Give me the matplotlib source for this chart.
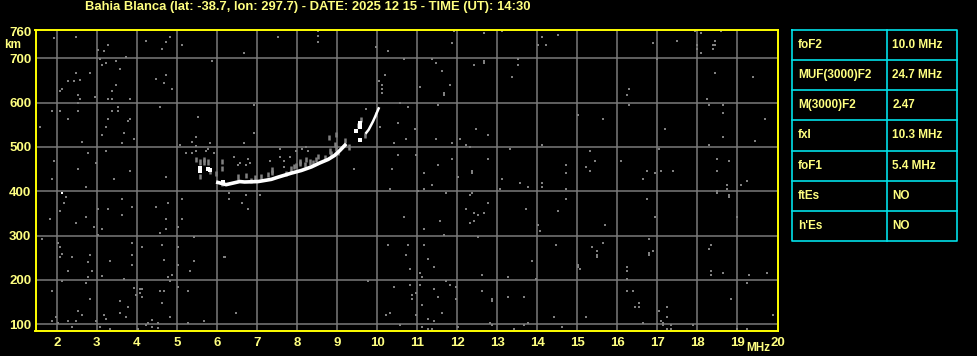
import matplotlib
matplotlib.use("Agg")
import matplotlib.pyplot as plt
import numpy as np

# ionogram: Bahia Blanca 2025-12-15 14:30 UT
title = "Bahia Blanca (lat: -38.7, lon: 297.7) - DATE: 2025 12 15 - TIME (UT): 14:30"

freq_ticks = list(range(2, 21))
height_ticks = [100, 200, 300, 400, 500, 600, 700, 760]

# main o-trace (white) and the steep upper part near foF2
trace_freq = [5.98, 6.07, 6.23, 6.57, 6.69, 7.03, 7.36, 7.53, 7.86, 8.11, 8.36, 8.57, 8.78, 8.94, 9.07, 9.23]
trace_height = [421, 419, 415, 422, 421, 422, 427, 432, 441, 447, 455, 464, 472, 481, 492, 507]
upper_freq = [9.48, 9.58, 9.73, 9.79, 9.86, 9.90, 9.94, 10.04]
upper_height = [537, 546, 532, 539, 551, 558, 566, 587]
start_freq = [5.58, 5.58, 5.78, 5.83, 6.15, 9.58, 9.58]
start_height = [453, 445, 450, 448, 421, 515, 555]

# weaker grey echoes around the trace (vertical streaks)
echo_pts = [(5.58, 460), (5.68, 460), (5.78, 460), (6.13, 462), (5.58, 428), (5.83, 440),
            (5.98, 434), (6.13, 445), (6.13, 412), (6.53, 426), (6.73, 429), (6.86, 418),
            (6.94, 424), (7.11, 427), (7.28, 432), (7.38, 436), (7.73, 434), (7.86, 444),
            (7.98, 452), (8.07, 456), (8.19, 454), (8.32, 460), (8.40, 458), (8.48, 466),
            (8.69, 470), (8.82, 485), (8.86, 480), (8.98, 492), (9.03, 482), (9.19, 508),
            (9.29, 494), (8.79, 515), (8.98, 522), (9.97, 568), (9.69, 520),
            (9.59, 556), (9.53, 542), (8.07, 462), (8.23, 466), (7.38, 442), (7.93, 450),
            (8.52, 472), (8.94, 500), (5.48, 465), (5.68, 466)]

# scattered noise
noise_pts = [
    (1.94, 745), (2.48, 749), (4.73, 763), (4.83, 749), (4.23, 740), (4.74, 736), (3.28, 731),
    (3.03, 718), (3.18, 717), (4.63, 722), (5.13, 731), (3.74, 704), (3.08, 698), (3.23, 690),
    (3.13, 686), (3.49, 694), (3.59, 676), (2.48, 667), (2.83, 667), (2.28, 649), (2.43, 648),
    (2.58, 652), (2.13, 631), (2.08, 627), (2.53, 618), (2.58, 609), (2.95, 613), (3.28, 609),
    (3.38, 609), (3.38, 627), (3.49, 640), (3.84, 609), (4.49, 654), (4.74, 663), (4.68, 645),
    (4.89, 631), (5.88, 694), (2.53, 600), (1.89, 582), (2.09, 582), (2.53, 582), (3.38, 582),
    (3.53, 591), (3.53, 582), (4.58, 591), (2.28, 564), (3.28, 564), (3.84, 564), (3.79, 559),
    (1.58, 546), (3.23, 546), (3.69, 532), (3.13, 528), (3.93, 518), (2.63, 512), (3.63, 509),
    (5.53, 568), (2.78, 487), (3.23, 491), (1.94, 469), (2.98, 464), (2.53, 451), (3.84, 446),
    (1.89, 428), (2.74, 410), (3.43, 428), (4.74, 433), (2.24, 388), (2.19, 374),
    (2.09, 356), (1.83, 338), (2.48, 329), (2.74, 342), (2.94, 320), (3.03, 360), (3.28, 360),
    (3.14, 315), (3.63, 383), (3.63, 347), (3.88, 365), (4.48, 365), (4.78, 374), (4.74, 338),
    (4.58, 306), (4.74, 315), (5.13, 383), (5.13, 338), (5.03, 320), (3.03, 302), (1.64, 293),
    (2.04, 284), (2.09, 275), (2.14, 259), (2.09, 252), (2.38, 252), (2.83, 257), (2.78, 241),
    (2.28, 220), (2.88, 220), (2.78, 207), (3.14, 209), (3.34, 243), (3.88, 284), (4.13, 275),
    (3.88, 257), (3.88, 234), (4.63, 279), (4.68, 245), (5.03, 275), (5.03, 234), (5.43, 297),
    (5.43, 243), (5.33, 220), (6.18, 252), (4.88, 211), (4.78, 207), (4.83, 198), (2.14, 198),
    (2.74, 193), (1.89, 175), (3.68, 202), (3.93, 182), (4.08, 180), (4.13, 180), (4.08, 171),
    (3.98, 166), (4.13, 162), (4.58, 175), (4.68, 175), (5.03, 184), (5.28, 175), (4.63, 148),
    (3.58, 153), (3.78, 139), (2.83, 157), (2.53, 130), (2.63, 121), (3.58, 126), (3.18, 121),
    (3.23, 112), (3.73, 117), (4.83, 117), (1.89, 108), (1.99, 117), (2.04, 103), (2.29, 108),
    (2.48, 108), (2.98, 108), (3.08, 94), (3.33, 90), (4.03, 90), (4.23, 99), (4.28, 103),
    (4.38, 110), (4.38, 94), (4.53, 103), (4.53, 92), (5.28, 103), (5.68, 108), (2.38, 94),
    (5.08, 505), (5.48, 523), (5.38, 512), (5.48, 503), (5.23, 487), (5.38, 487), (5.48, 491),
    (5.73, 491), (5.83, 509), (5.78, 496), (5.93, 487),
    (8.53, 762), (8.53, 751), (8.53, 737), (7.53, 749), (6.68, 713), (10.28, 717), (9.98, 726),
    (10.68, 699), (10.19, 663), (10.04, 649), (10.13, 640), (10.13, 631), (10.13, 622),
    (6.93, 595), (10.58, 600), (10.78, 591), (9.73, 586), (10.53, 555), (10.08, 546),
    (10.73, 518), (10.43, 509), (6.93, 532), (6.68, 509), (10.53, 482), (9.43, 451),
    (10.38, 451), (10.33, 406), (6.43, 478), (6.58, 464), (6.53, 460), (6.78, 473), (6.83, 464),
    (6.73, 460), (7.33, 469), (7.58, 496), (7.58, 478), (7.68, 469), (7.83, 478), (7.98, 491),
    (8.13, 496), (8.23, 500), (8.28, 491), (7.68, 455), (6.29, 397), (6.29, 383), (6.73, 392),
    (7.08, 392), (6.63, 374), (6.78, 360), (10.68, 342), (10.28, 279), (10.78, 279),
    (10.73, 257), (10.83, 225), (9.78, 198), (10.43, 184), (10.83, 189), (10.88, 166),
    (10.88, 157), (6.48, 126), (10.23, 121), (10.33, 126), (10.58, 99), (6.19, 252),
    (11.93, 762), (12.68, 758), (13.13, 762), (11.88, 735), (14.13, 749), (14.53, 753),
    (14.03, 731), (14.23, 731), (11.38, 699), (11.48, 690), (12.43, 685), (12.68, 694),
    (12.68, 690), (13.53, 699), (13.53, 685), (11.63, 672), (13.38, 658), (11.08, 636),
    (11.83, 640), (11.68, 622), (11.68, 618), (11.53, 595), (15.03, 573), (15.63, 564),
    (10.95, 541), (12.48, 541), (12.78, 527), (11.48, 518), (12.08, 518), (11.88, 509),
    (12.23, 505), (12.33, 500), (14.13, 505), (13.33, 496), (10.98, 482), (11.53, 460),
    (11.88, 473), (12.78, 473), (11.18, 442), (12.38, 446), (12.38, 442), (12.03, 433),
    (13.13, 428), (13.58, 419), (13.78, 410), (14.13, 419), (14.13, 410), (14.73, 460),
    (14.73, 442), (15.23, 455), (15.33, 446), (15.43, 469), (15.33, 491), (11.38, 415),
    (11.18, 406), (11.03, 401), (13.08, 406), (14.73, 406), (11.73, 397), (12.38, 397),
    (12.33, 392), (12.78, 374), (12.23, 360), (13.73, 360), (12.43, 351), (12.53, 347),
    (12.68, 351), (12.33, 329), (12.43, 333), (11.58, 333), (14.73, 383), (14.53, 356),
    (14.03, 324), (14.08, 311), (15.68, 324), (11.18, 315), (11.68, 302), (12.53, 297),
    (11.18, 279), (14.48, 279), (15.63, 284), (15.38, 275), (15.48, 266), (15.48, 257),
    (15.48, 252), (11.28, 248), (11.43, 230), (11.08, 216), (11.13, 207), (13.88, 243),
    (15.03, 234), (15.03, 230), (15.08, 225), (12.63, 211), (13.28, 207), (13.98, 202),
    (11.08, 189), (11.73, 198), (11.83, 189), (11.98, 184), (11.43, 180), (10.98, 171),
    (12.63, 175), (11.53, 162), (12.88, 157), (12.88, 153), (11.98, 157), (13.28, 162),
    (13.68, 162), (11.13, 144), (10.98, 121), (11.63, 126), (11.28, 112), (11.43, 108),
    (14.43, 117), (15.23, 117), (12.83, 103), (12.88, 99), (13.78, 103), (13.68, 99),
    (12.03, 94), (11.13, 94), (11.28, 90), (11.38, 90), (13.43, 90), (14.63, 94),
    (17.94, 762), (18.09, 758), (18.59, 762), (16.89, 735), (17.49, 740), (18.44, 740),
    (17.99, 731), (18.39, 731), (18.44, 731), (17.99, 722), (18.39, 722), (18.09, 713),
    (16.99, 699), (18.44, 667), (19.39, 658), (16.29, 631), (16.24, 618), (16.29, 595),
    (18.24, 609), (18.29, 595), (18.64, 595), (18.64, 577), (15.64, 564), (19.69, 564),
    (17.19, 541), (18.64, 523), (19.44, 514), (18.29, 505), (17.04, 496), (16.09, 469),
    (18.49, 473), (18.79, 469), (16.74, 446), (16.94, 442), (17.09, 446), (17.39, 446),
    (16.64, 428), (18.49, 446), (19.24, 424), (19.09, 415), (18.74, 415), (18.74, 406),
    (18.49, 401), (18.49, 397), (18.79, 392), (18.79, 388), (16.74, 383), (16.94, 342),
    (18.99, 342), (15.69, 324), (15.64, 284), (16.79, 293), (16.89, 266), (16.79, 261),
    (16.79, 257), (18.34, 279), (18.29, 270), (16.24, 230), (16.24, 220), (16.24, 202),
    (18.34, 220), (18.34, 211), (18.64, 216), (19.29, 211), (19.74, 216), (19.24, 193),
    (16.24, 175), (16.39, 175), (16.54, 148), (16.44, 139), (16.54, 139), (17.24, 139),
    (17.04, 130), (17.24, 117), (18.84, 157), (19.89, 121), (16.64, 103), (17.09, 108),
    (17.14, 103), (17.14, 99), (17.34, 99), (17.24, 90), (17.34, 90), (17.89, 99),
    (18.99, 90), (19.24, 90),
]
white_dots = [(2.14, 397)]

# scaled parameters table
param_names = ["foF2", "MUF(3000)F2", "M(3000)F2", "fxI", "foF1", "ftEs", "h'Es"]
param_values = ["10.0 MHz", "24.7 MHz", "2.47", "10.3 MHz", "5.4 MHz", "NO", "NO"]

YEL = "#ffff80"
AXYEL = "#ffff00"
GRID = "#7a7a7a"
CYAN = "#00e0e8"
FONT = "Liberation Sans"

W, H = 978, 356
fig = plt.figure(figsize=(W / 100, H / 100), dpi=100, facecolor="black")

x0, x1, y0, y1 = 35.5, 778.3, 29.5, 330.5
ax = fig.add_axes([x0 / W, 1 - y1 / H, (x1 - x0) / W, (y1 - y0) / H])
ax.set_facecolor("black")
ax.set_xlim(1.47, 20.02)
ax.set_ylim(86, 765)

for f in range(2, 20):
    ax.axvline(f, color=GRID, lw=1.1, zorder=1)
for h in range(100, 701, 100):
    ax.axhline(h, color=GRID, lw=1.1, zorder=1)

nf, nh = zip(*noise_pts)
ax.scatter(nf, nh, marker="s", s=2.2, color="#808080", linewidths=0, zorder=2)
ef, eh = zip(*echo_pts)
ax.vlines(ef, eh, np.array(eh) + 12, color="#808080", lw=1.8, zorder=2)
wf, wh = zip(*white_dots)
ax.scatter(wf, wh, marker="s", s=3, color="white", linewidths=0, zorder=3)

ax.plot(trace_freq, trace_height, color="white", lw=2.6, solid_capstyle="butt", zorder=4)
ax.plot(upper_freq[2:], upper_height[2:], color="white", lw=1.8, zorder=4)
ax.scatter(start_freq, start_height, marker="s", s=7, color="white", linewidths=0, zorder=4)
ax.scatter(upper_freq[:2], upper_height[:2], marker="s", s=5, color="white", linewidths=0, zorder=4)

for sp in ax.spines.values():
    sp.set_color(AXYEL)
    sp.set_linewidth(1.4)

ax.set_xticks(freq_ticks)
ax.set_xticklabels([str(f) for f in freq_ticks])
ax.set_yticks(height_ticks)
ax.set_yticklabels([str(h) for h in height_ticks])
ax.tick_params(length=0, colors=YEL, labelsize=9.5)
ax.tick_params(axis="x", pad=5)
ax.tick_params(axis="y", pad=3)
for lab in ax.get_xticklabels() + ax.get_yticklabels():
    lab.set_fontfamily(FONT)
    lab.set_fontweight("bold")

fig.text(13 / W, 1 - 45 / H, "km", color=YEL, fontsize=8.5, fontweight="bold",
         family=FONT, ha="center", va="center")
fig.text(758 / W, 1 - 348 / H, "MHz", color=YEL, fontsize=8.5, fontweight="bold",
         family=FONT, ha="center", va="center")
fig.text(308 / W, 1 - 7 / H, title, color=YEL, fontsize=9.4, fontweight="bold",
         family=FONT, ha="center", va="center")

# table
tx0, tx1, ty0, ty1, tsplit = 792.3, 957.3, 30.3, 240.7, 887.3
tab = fig.add_axes([0, 0, 1, 1], facecolor="none")
tab.set_xlim(0, W)
tab.set_ylim(H, 0)
tab.axis("off")
row_h = (ty1 - ty0) / len(param_names)
tab.plot([tx0, tx1, tx1, tx0, tx0], [ty0, ty0, ty1, ty1, ty0], color=CYAN, lw=1.2)
tab.plot([tsplit, tsplit], [ty0, ty1], color=CYAN, lw=1.2)
for i, (name, val) in enumerate(zip(param_names, param_values)):
    if i > 0:
        tab.plot([tx0, tx1], [ty0 + i * row_h] * 2, color=CYAN, lw=1.2)
    yc = ty0 + (i + 0.5) * row_h
    tab.text(tx0 + 5.5, yc, name, color=YEL, fontsize=8.5, fontweight="bold",
             family=FONT, va="center", ha="left")
    tab.text(tsplit + 5, yc, val, color=YEL, fontsize=8.5, fontweight="bold",
             family=FONT, va="center", ha="left")

fig.savefig("out.png", dpi=100, facecolor="black")
